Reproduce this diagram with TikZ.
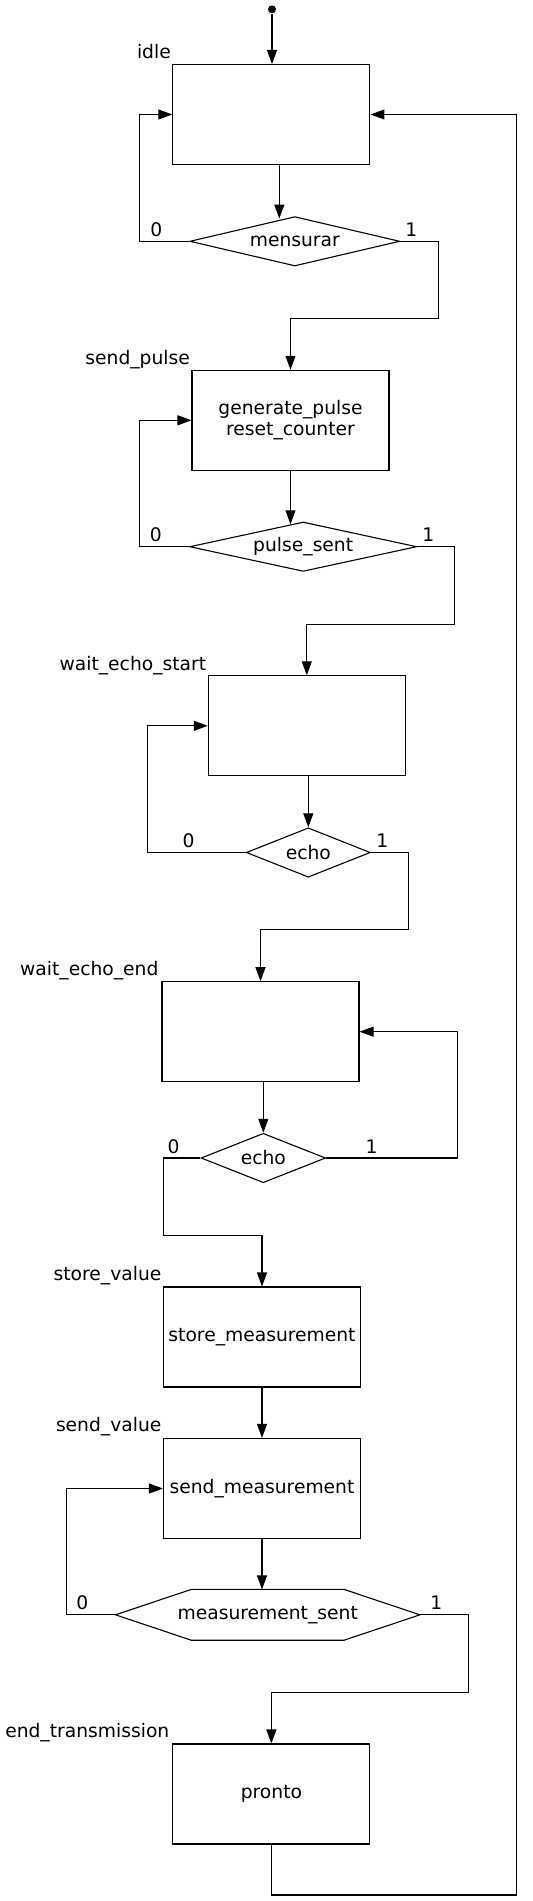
\documentclass[tikz,border=0pt]{standalone}
\usepackage{fontspec}
\setmainfont{DejaVu Sans}
\usepackage{tikz}
\usetikzlibrary{positioning, shapes}
\usetikzlibrary{arrows.meta, calc}

\begin{document}
\begin{tikzpicture}[x=0.5pt, y=-0.5pt, line width=0.55pt, font=\fontsize{9.35pt}{10.4pt}\selectfont]
                \tikzset{state/.style = {draw, rectangle, minimum width=98.5pt, minimum height=50pt, inner sep=0pt, align=center}}
                \tikzset{choice/.style = {draw, diamond, minimum height=24.7pt, inner sep=0pt}}
                \tikzset{statename/.style = {anchor=base east, inner sep=0pt}}
                \tikzset{bit/.style = {inner sep=0pt}}
                \tikzset{arr/.style = {-{Triangle[length=7pt, width=5pt]}}}

                \useasboundingbox (0,0) rectangle (532,1901);

                \node[circle, fill, inner sep=0pt, minimum size=4pt] (init) at (272,9.3) {};

                \node[state] (idle) at (271.4,114.5) {};
                \node[choice, aspect=4.25, minimum width=105pt] (mensurar) at (294.8,241.3) {mensurar};

                \node[state] (pulse) at (290.5,420.3) {generate\_pulse\\reset\_counter};
                \node[choice, aspect=4.6, minimum width=113.5pt] (pulsesent) at (303.2,546.7) {pulse\_sent};

                \node[state] (waitstart) at (306.8,725.8) {};
                \node[choice, aspect=2.5, minimum width=62pt] (echostart) at (308.3,852.5) {echo};

                \node[state] (waitend) at (260.5,1031.7) {};
                \node[choice, aspect=2.5, minimum width=62.3pt] (echoend) at (263.3,1158) {echo};

                \node[state] (store) at (262,1337) {store\_measurement};
                \node[state] (send) at (262,1488.5) {send\_measurement};
                \node[minimum width=151.65pt, minimum height=24.85pt, inner sep=0pt] (sent) at (267.7,1614.8) {measurement\_sent};

                \node[state] (done) at (271.4,1794) {pronto};
                \coordinate (rail) at (516.7,1895);

                % state names
                \node[statename] (idlename) at ($(idle.north west)+(-1,-5.5)$) {idle};
                \node[statename] (pulsename) at ($(pulse.north west)+(-1,-5.5)$) {send\_pulse};
                \node[statename] (waitstartname) at ($(waitstart.north west)+(-1,-5)$) {wait\_echo\_start};
                \node[statename] (waitendname) at ($(waitend.north west)+(-2.5,-5.5)$) {wait\_echo\_end};
                \node[statename] (storename) at ($(store.north west)+(-1,-5.5)$) {store\_value};
                \node[statename] (sendname) at ($(send.north west)+(-1,-6.5)$) {send\_value};
                \node[statename] (donename) at ($(done.north west)+(-2.5,-5.5)$) {end\_transmission};

                % hexagon
                \draw (sent.west) -- ($(sent.north west)+(75.8,0)$) -- ($(sent.north east)+(-75.8,0)$) -- (sent.east)
                      -- ($(sent.south east)+(-75.8,0)$) -- ($(sent.south west)+(75.8,0)$) -- cycle;

                % branch values
                \node[bit] (m0) at ($(mensurar.west)+(-33,-12)$) {0};
                \node[bit] (m1) at ($(mensurar.east)+(11,-12)$) {1};
                \node[bit] (p0) at ($(pulsesent.west)+(-33.4,-11.7)$) {0};
                \node[bit] (p1) at ($(pulsesent.east)+(11,-11.7)$) {1};
                \node[bit] (s0) at ($(echostart.west)+(-57.3,-11.7)$) {0};
                \node[bit] (s1) at ($(echostart.east)+(11.4,-11.7)$) {1};
                \node[bit] (e0) at ($(echoend.west)+(-27,-11.3)$) {0};
                \node[bit] (e1) at ($(echoend.east)+(45.3,-11.3)$) {1};
                \node[bit] (t0) at ($(sent.west)+(-33.3,-12.5)$) {0};
                \node[bit] (t1) at ($(sent.east)+(16.4,-12.5)$) {1};

                % arrows
                \draw[arr] (init) -- (init |- idle.north);
                \draw[arr] ($(idle.south)+(7.9,0)$) -- ($(mensurar.north)+(-15.5,2.5)$);
                \draw[arr] (mensurar.west) -- ++(-49.4,0) |- (idle.west);
                \draw[arr] (mensurar.east) -- ++(37.7,0) -- ++(0,77.3) -| (pulse.north);

                \draw[arr] (pulse.south) -- ($(pulsesent.north)+(-12.7,2.8)$);
                \draw[arr] (pulsesent.west) -- ++(-49.4,0) |- (pulse.west);
                \draw[arr] (pulsesent.east) -- ++(37.6,0) -- ++(0,77.6) -| (waitstart.north);

                \draw[arr] (echostart.north |- waitstart.south) -- (echostart.north);
                \draw[arr] (echostart.west) -- ++(-98,0) |- (waitstart.west);
                \draw[arr] (echostart.east) -- ++(37.4,0) -- ++(0,77.2) -| (waitend.north);

                \draw[arr] (echoend.north |- waitend.south) -- (echoend.north);
                \draw[arr] (echoend.east) -- ++(131,0) |- (waitend.east);
                \draw[arr] (echoend.west) -- ++(-37.3,0) -- ++(0,77.3) -| (store.north);

                \draw[arr] (store) -- (send);
                \draw[arr] (send.south) -- (send.south |- sent.north);
                \draw[arr] (sent.west) -- ++(-49.3,0) |- (send.west);
                \draw[arr] (sent.east) -- ++(48.7,0) -- ++(0,77.5) -| (done.north);

                \draw[arr] (done.south) |- (rail) |- (idle.east);

\end{tikzpicture}
\end{document}
